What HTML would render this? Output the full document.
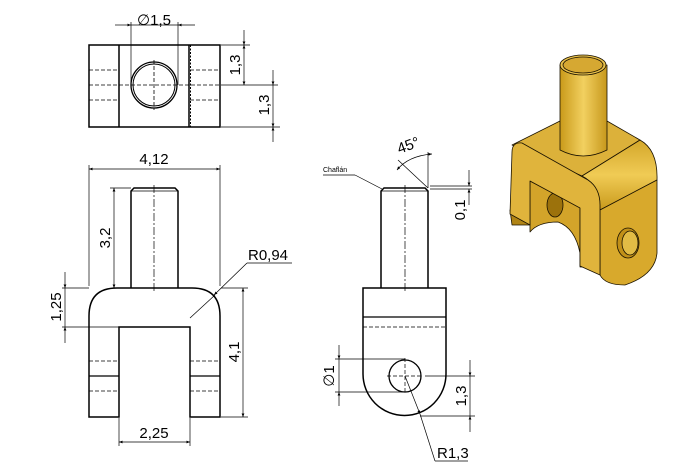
<!DOCTYPE html>
<html><head><meta charset="utf-8"><style>
html,body{margin:0;padding:0;background:#fff;}
svg{display:block;}
text{font-family:"Liberation Sans","DejaVu Sans",sans-serif;fill:#000;}
</style></head><body>
<svg width="678" height="469" viewBox="0 0 678 469" xmlns="http://www.w3.org/2000/svg">
<defs>
<marker id="a" viewBox="0 0 10 10" refX="10" refY="5" markerWidth="7" markerHeight="5" orient="auto-start-reverse"><path d="M0,1 L10,5 L0,9 Z" fill="#000"/></marker>
<linearGradient id="g1" x1="0" y1="0" x2="1" y2="0"><stop offset="0" stop-color="#c99a1a"/><stop offset="0.5" stop-color="#f2d060"/><stop offset="1" stop-color="#c7981c"/></linearGradient>
<linearGradient id="g2" x1="0" y1="0" x2="0" y2="1"><stop offset="0" stop-color="#d4a72a"/><stop offset="0.5" stop-color="#f0cb55"/><stop offset="1" stop-color="#c99a1c"/></linearGradient>
</defs>
<g fill="none" stroke="#000" stroke-width="1">
<rect x="89" y="45" width="131" height="82" stroke-width="1.5"/>
<line x1="119" y1="45" x2="119" y2="127" stroke-width="1.5"/>
<line x1="189" y1="45" x2="189" y2="127" stroke-width="1.5"/>
<line x1="190.5" y1="45" x2="190.5" y2="127" stroke-dasharray="2,1.5"/>
<circle cx="154" cy="85" r="23" stroke-width="1.3"/>
<circle cx="154" cy="85" r="21" stroke-width="1"/>
<g stroke-dasharray="4,2" stroke-width="0.8">
<line x1="89" y1="70" x2="119" y2="70"/><line x1="89" y1="100" x2="119" y2="100"/>
<line x1="190" y1="70" x2="220" y2="70"/><line x1="190" y1="100" x2="220" y2="100"/>
<line x1="89" y1="85" x2="220" y2="85"/><line x1="154" y1="60" x2="154" y2="110"/>
</g>
<g stroke-width="0.7">
<line x1="131" y1="22" x2="131" y2="85"/><line x1="178" y1="22" x2="178" y2="85"/>
<line x1="115" y1="25" x2="131" y2="25" marker-end="url(#a)"/><line x1="195" y1="25" x2="178" y2="25" marker-end="url(#a)"/>
<line x1="131" y1="25" x2="178" y2="25"/>
<line x1="221" y1="45" x2="250" y2="45"/><line x1="221" y1="85" x2="278" y2="85"/><line x1="221" y1="127" x2="280" y2="127"/>
<line x1="244" y1="30" x2="244" y2="45" marker-end="url(#a)"/><line x1="244" y1="45" x2="244" y2="85" marker-start="url(#a)" marker-end="url(#a)"/>
<line x1="273" y1="70" x2="273" y2="85" marker-end="url(#a)"/><line x1="273" y1="85" x2="273" y2="127" marker-end="url(#a)"/><line x1="273" y1="142" x2="273" y2="127" marker-end="url(#a)"/>
</g>
<path d="M131,288 L131,191 L134,188 L175,188 L178,191 L178,288" stroke-width="1.5"/>
<line x1="131" y1="191" x2="178" y2="191" stroke-width="0.7"/>
<line x1="154" y1="185" x2="154" y2="293" stroke-dasharray="8,2,2,2" stroke-width="0.7"/>
<path d="M89,417 L89,316 Q89,288 117,288 L192,288 Q220,288 220,316 L220,417 L190,417 L190,327 L119,327 L119,417 Z" stroke-width="1.5"/>
<line x1="89" y1="376" x2="119" y2="376" stroke-width="1.3"/><line x1="190" y1="376" x2="220" y2="376" stroke-width="1.3"/>
<g stroke-dasharray="4,2" stroke-width="0.8">
<line x1="89" y1="361" x2="119" y2="361"/><line x1="89" y1="391" x2="119" y2="391"/>
<line x1="190" y1="361" x2="220" y2="361"/><line x1="190" y1="391" x2="220" y2="391"/>
</g>
<g stroke-width="0.7">
<line x1="89" y1="165" x2="89" y2="286"/><line x1="220" y1="165" x2="220" y2="286"/>
<line x1="89" y1="169" x2="220" y2="169" marker-start="url(#a)" marker-end="url(#a)"/>
<line x1="110" y1="188" x2="131" y2="188"/>
<line x1="114" y1="188" x2="114" y2="288" marker-start="url(#a)" marker-end="url(#a)"/>
<line x1="62" y1="288" x2="89" y2="288"/><line x1="62" y1="327" x2="119" y2="327"/>
<line x1="65" y1="272" x2="65" y2="288" marker-end="url(#a)"/><line x1="65" y1="288" x2="65" y2="327"/><line x1="65" y1="343" x2="65" y2="327" marker-end="url(#a)"/>
<line x1="221" y1="288" x2="248" y2="288"/><line x1="221" y1="417" x2="248" y2="417"/>
<line x1="243" y1="288" x2="243" y2="417" marker-start="url(#a)" marker-end="url(#a)"/>
<line x1="119" y1="418" x2="119" y2="446"/><line x1="190" y1="418" x2="190" y2="446"/>
<line x1="119" y1="442" x2="190" y2="442" marker-start="url(#a)" marker-end="url(#a)"/>
<line x1="190" y1="318" x2="215" y2="295"/><line x1="247" y1="263" x2="214" y2="295" marker-end="url(#a)"/><line x1="247" y1="263" x2="292" y2="263"/>
</g>
<path d="M381,288 L381,191 L384,188 L425,188 L428,191 L428,288" stroke-width="1.5"/>
<line x1="381" y1="191" x2="428" y2="191" stroke-width="0.7"/>
<line x1="405" y1="185" x2="405" y2="293" stroke-dasharray="8,2,2,2" stroke-width="0.7"/>
<path d="M363,374 L363,288 L446,288 L446,374 A41.5,41.5 0 0 1 363,374 Z" stroke-width="1.5"/>
<line x1="363" y1="317" x2="446" y2="317" stroke-width="1.3"/>
<line x1="363" y1="327" x2="446" y2="327" stroke-dasharray="4,2" stroke-width="0.8"/>
<circle cx="405" cy="376" r="16" stroke-width="1.3"/>
<g stroke-dasharray="4,2" stroke-width="0.7"><line x1="387" y1="376" x2="423" y2="376"/><line x1="405" y1="358" x2="405" y2="394"/></g>
<g stroke-width="0.7">
<line x1="335" y1="359" x2="405" y2="359"/><line x1="335" y1="392" x2="405" y2="392"/>
<line x1="339" y1="345" x2="339" y2="359" marker-end="url(#a)"/><line x1="339" y1="359" x2="339" y2="392"/><line x1="339" y1="406" x2="339" y2="392" marker-end="url(#a)"/>
<line x1="425" y1="376" x2="475" y2="376"/><line x1="420" y1="416" x2="475" y2="416"/>
<line x1="470" y1="360" x2="470" y2="376" marker-end="url(#a)"/><line x1="470" y1="376" x2="470" y2="416"/><line x1="470" y1="432" x2="470" y2="416" marker-end="url(#a)"/>
<line x1="405" y1="376" x2="420" y2="414" marker-end="url(#a)"/><line x1="420" y1="414" x2="435" y2="461"/><line x1="435" y1="461" x2="468" y2="461"/>
<line x1="430" y1="186" x2="472" y2="186"/><line x1="430" y1="189" x2="472" y2="189"/>
<line x1="469" y1="170" x2="469" y2="186" marker-end="url(#a)"/><line x1="469" y1="205" x2="469" y2="189" marker-end="url(#a)"/>
<line x1="428" y1="152" x2="428" y2="188"/>
<line x1="428" y1="188" x2="398" y2="160"/>
<path d="M397,170 Q408,156 432,154" marker-start="url(#a)" marker-end="url(#a)"/>
<line x1="323" y1="175" x2="355" y2="175"/><line x1="355" y1="175" x2="382" y2="189"/>
</g>
</g>
<text x="154" y="25" font-size="15" text-anchor="middle">∅1,5</text>
<text transform="translate(240,65) rotate(-90)" font-size="15" text-anchor="middle">1,3</text>
<text transform="translate(269,105) rotate(-90)" font-size="15" text-anchor="middle">1,3</text>
<text x="154" y="164" font-size="15" text-anchor="middle">4,12</text>
<text transform="translate(110,238) rotate(-90)" font-size="15" text-anchor="middle">3,2</text>
<text transform="translate(61,307) rotate(-90)" font-size="15" text-anchor="middle">1,25</text>
<text transform="translate(239,352) rotate(-90)" font-size="15" text-anchor="middle">4,1</text>
<text x="154" y="438" font-size="15" text-anchor="middle">2,25</text>
<text x="248" y="260" font-size="15">R0,94</text>
<text x="323" y="172" font-size="7">Chaflán</text>
<text transform="translate(410,150) rotate(-20)" font-size="15" text-anchor="middle">45°</text>
<text transform="translate(465,210) rotate(-90)" font-size="15" text-anchor="middle">0,1</text>
<text transform="translate(334,376) rotate(-90)" font-size="15" text-anchor="middle">∅1</text>
<text transform="translate(466,396) rotate(-90)" font-size="15" text-anchor="middle">1,3</text>
<text x="437" y="458" font-size="15">R1,3</text>
<g stroke="#1a1200" stroke-width="0.8" stroke-linejoin="round">
<path d="M512,145 L560,121 L607,121 L640,140 L582,176 Z" fill="#dcb13a"/>
<path d="M582,176 L640,140 Q658,150 657,180 L600,210 Q600,185 582,176 Z" fill="url(#g2)"/>
<path d="M600,210 L657,180 L657,253 Q655,275 625,285 Q605,285 600,275 Z" fill="#d8a92c"/>
<path d="M580,253 L600,253 L600,275 L597,267 L580,267 Z" fill="#b08415"/>
<path d="M510,210 L530,210 L530,225 L512,225 Z" fill="#b08415"/>
<path d="M530,181 L580,207 L580,253 Q575,228 558,222 Q538,222 530,232 Z" fill="#d3a42a"/>
<ellipse cx="555" cy="205" rx="8" ry="12" fill="#9c720c"/>
<path d="M512,152 Q512,142 522,143 L588,180 Q600,188 600,205 L600,275 L580,266 L580,208 L530,181 L530,225 L510,214 Z" fill="#e0b43c"/>
<ellipse cx="628" cy="243" rx="11" ry="15" fill="#c19018"/>
<ellipse cx="630" cy="243" rx="8" ry="12" fill="#e2bc45"/>
<path d="M560,65 L560,150 Q583,162 607,150 L607,65 Z" fill="url(#g1)"/>
<ellipse cx="583" cy="65" rx="23" ry="10" fill="#e8c04a"/>
<ellipse cx="583" cy="65" rx="20" ry="8" fill="#d6a832"/>
</g>
</svg>
</body></html>
